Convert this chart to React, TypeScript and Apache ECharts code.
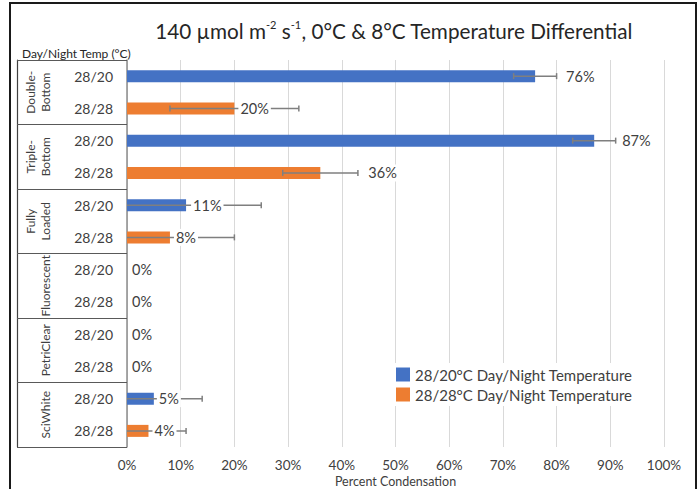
import React, { useEffect, useRef } from "react";
import * as echarts from "echarts";

const groups = ["Double-\nBottom", "Triple-\nBottom", "Fully\nLoaded", "Fluorescent", "PetriClear", "SciWhite"];
const tempLabels = ["28/20", "28/28", "28/20", "28/28", "28/20", "28/28", "28/20", "28/28", "28/20", "28/28", "28/20", "28/28"];
const condensation2820 = [76, 87, 11, 0, 0, 5];
const condensation2828 = [20, 36, 8, 0, 0, 4];
const error2820 = [4, 4, 14, 0, 0, 9];
const error2828 = [12, 7, 12, 0, 0, 7];
const xTicks = [0, 10, 20, 30, 40, 50, 60, 70, 80, 90, 100];

const seriesNames = ["28/20°C Day/Night Temperature", "28/28°C Day/Night Temperature"];
// horizontal gap between bar end and its value label (layout only)
const labelGap = [31, 6, 28, 48, 7, 6, 5, 5, 5, 5, 5, 6];

const FONT = "Lato, 'Noto Sans', sans-serif";
const TXT = "#404040";

export default function App() {
  const ref = useRef<HTMLDivElement>(null);
  useEffect(() => {
    if (!ref.current) return;
    const chart = echarts.init(ref.current, undefined, { renderer: "svg" });

    const rows: { v: number; e: number }[] = [];
    groups.forEach((_, i) => {
      rows.push({ v: condensation2820[i], e: error2820[i] });
      rows.push({ v: condensation2828[i], e: error2828[i] });
    });
    const blueData = rows.map((r, i) => (i % 2 === 0 ? r.v : "-"));
    const orangeData = rows.map((r, i) => (i % 2 === 1 ? r.v : "-"));
    const errData = rows.map((r, i) => [i, r.v, r.e, labelGap[i]]);

    const option: any = {
      animation: false,
      textStyle: { fontFamily: FONT },
      title: [
        {
          text: "140 µmol m{sup|-2} s{sup|-1}, 0°C & 8°C Temperature Differential",
          left: 389,
          top: 14,
          textAlign: "center",
          textStyle: {
            fontFamily: FONT,
            fontSize: 20.7,
            fontWeight: "normal",
            color: "#262626",
            lineHeight: 24,
            rich: {
              sup: { fontFamily: FONT, fontSize: 11, color: "#262626", verticalAlign: "top", lineHeight: 22 },
            },
          },
        },
        {
          text: "Day/Night Temp (°C)",
          left: 17,
          top: 42,
          textStyle: { fontFamily: FONT, fontSize: 12, fontWeight: "normal", color: "#262626" },
        },
      ],
      graphic: [
        {
          type: "rect",
          shape: { x: 10, y: 3, width: 686, height: 500 },
          style: { fill: "none", stroke: "#1a1a1a", lineWidth: 2 },
          silent: true,
        },
      ],
      legend: {
        orient: "vertical",
        left: 392,
        top: 363,
        padding: [4, 4],
        itemWidth: 14,
        itemHeight: 14,
        itemGap: 5,
        backgroundColor: "#ffffff",
        icon: "rect",
        data: seriesNames,
        textStyle: { fontFamily: FONT, fontSize: 15, color: TXT },
      },
      grid: { left: 127, right: 36, top: 60, bottom: 42, outerBoundsMode: "none", containLabel: false },
      xAxis: {
        type: "value",
        min: xTicks[0],
        max: xTicks[xTicks.length - 1],
        interval: 10,
        axisLine: { show: false },
        axisTick: { show: false },
        splitLine: { lineStyle: { color: "#d9d9d9", width: 1 } },
        axisLabel: { formatter: "{value}%", fontFamily: FONT, fontSize: 13.5, color: TXT, margin: 10, lineHeight: 15 },
        name: "Percent Condensation",
        nameLocation: "middle",
        nameGap: 27,
        nameMoveOverlap: false,
        nameTextStyle: { fontFamily: FONT, fontSize: 12.5, color: TXT, lineHeight: 14 },
      },
      yAxis: [
        {
          type: "category",
          data: tempLabels,
          inverse: true,
          position: "left",
          axisLine: { show: true, lineStyle: { color: "#8c8c8c", width: 1.5 } },
          axisTick: { show: false },
          splitLine: { show: false },
          axisLabel: { interval: 0, fontFamily: FONT, fontSize: 14, color: TXT, margin: 14 },
        },
        {
          type: "category",
          data: groups,
          inverse: true,
          position: "left",
          offset: 0,
          axisLine: { show: false },
          axisTick: { show: true, interval: 0, length: 110, lineStyle: { color: "#595959", width: 1.2 } },
          splitLine: { show: false },
          axisLabel: {
            interval: 0,
            rotate: 90,
            margin: 74,
            fontFamily: FONT,
            fontSize: 12,
            lineHeight: 15,
            color: TXT,
            align: "center",
          },
        },
        {
          type: "category",
          data: groups,
          inverse: true,
          position: "left",
          offset: 110,
          axisLine: { show: true, lineStyle: { color: "#404040", width: 1.2 } },
          axisTick: { show: false },
          axisLabel: { show: false },
          splitLine: { show: false },
        },
      ],
      series: [
        {
          name: seriesNames[0],
          type: "bar",
          yAxisIndex: 0,
          data: blueData,
          barWidth: 12,
          barGap: "-100%",
          itemStyle: { color: "#4472C4" },
          z: 2,
        },
        {
          name: seriesNames[1],
          type: "bar",
          yAxisIndex: 0,
          data: orangeData,
          barWidth: 12,
          barGap: "-100%",
          itemStyle: { color: "#ED7D31" },
          z: 2,
        },
        {
          type: "custom",
          yAxisIndex: 0,
          z: 5,
          encode: { x: 1, y: 0 },
          data: errData,
          renderItem: (params: any, api: any) => {
            const idx = api.value(0);
            const v = api.value(1);
            const e = api.value(2);
            const gap = api.value(3);
            const pBar = api.coord([v, idx]);
            const yc = pBar[1];
            const children: any[] = [];
            const errStyle = { stroke: "#7f7f7f", lineWidth: 1.5 };
            if (e > 0) {
              const lo = Math.max(0, v - e);
              const hi = v + e;
              const xl = api.coord([lo, idx])[0];
              const xh = api.coord([hi, idx])[0];
              children.push({ type: "line", shape: { x1: xl, y1: yc, x2: xh, y2: yc }, style: errStyle });
              children.push({ type: "line", shape: { x1: xh, y1: yc - 3, x2: xh, y2: yc + 3 }, style: errStyle });
              if (v - e >= 0) {
                children.push({ type: "line", shape: { x1: xl, y1: yc - 3, x2: xl, y2: yc + 3 }, style: errStyle });
              }
            }
            children.push({
              type: "text",
              style: {
                text: v + "%",
                x: pBar[0] + gap - 2,
                y: yc,
                align: "left",
                verticalAlign: "middle",
                fontFamily: FONT,
                fontSize: 14.5,
                fill: TXT,
                backgroundColor: "#ffffff",
                padding: [1, 2],
              },
            });
            return { type: "group", children };
          },
        },
      ],
    };
    chart.setOption(option);
    return () => chart.dispose();
  }, []);
  return (
    <div
      ref={ref}
      style={{ position: "fixed", left: 0, top: 0, width: 700, height: 489, background: "#ffffff" }}
    />
  );
}
